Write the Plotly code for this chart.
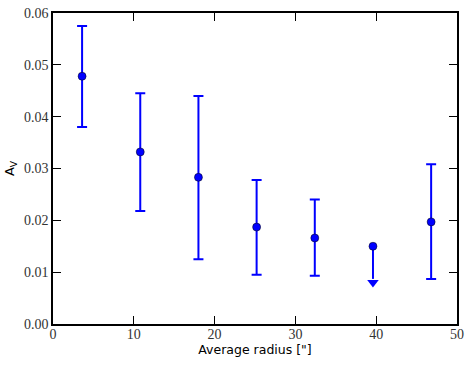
import plotly.graph_objects as go

# data
radius = [3.6, 10.8, 18.0, 25.2, 32.4, 46.8]
av = [0.0478, 0.0332, 0.0283, 0.0187, 0.0166, 0.0197]
av_hi = [0.0575, 0.0445, 0.0440, 0.0278, 0.0240, 0.0308]
av_lo = [0.0380, 0.0218, 0.0125, 0.0095, 0.0093, 0.0087]

# upper limit point
lim_radius = [39.6]
lim_av = [0.0150]
lim_tip = [0.0080]

err_plus = [h - v for h, v in zip(av_hi, av)]
err_minus = [v - l for v, l in zip(av, av_lo)]

fig = go.Figure()
fig.add_trace(go.Scatter(
    x=radius, y=av, mode="markers",
    marker=dict(color="#0000ff", size=8, line=dict(color="black", width=0.5)),
    error_y=dict(type="data", symmetric=False, array=err_plus, arrayminus=err_minus,
                 color="#0000ff", thickness=2, width=5),
    showlegend=False,
))
# upper limit: line + arrow head
fig.add_trace(go.Scatter(
    x=lim_radius, y=lim_av, mode="markers",
    marker=dict(color="#0000ff", size=8, line=dict(color="black", width=0.5)),
    error_y=dict(type="data", symmetric=False, array=[0],
                 arrayminus=[lim_av[0] - lim_tip[0] - 0.0007],
                 color="#0000ff", thickness=2, width=0),
    showlegend=False,
))
fig.add_trace(go.Scatter(
    x=lim_radius, y=lim_tip, mode="markers",
    marker=dict(symbol="triangle-down", color="#0000ff", size=10, line=dict(width=0)),
    showlegend=False,
))

axis_common = dict(
    showgrid=False, zeroline=False, showline=True, linecolor="black", linewidth=1.5,
    mirror="ticks", ticks="inside", ticklen=8, tickwidth=1.2, tickcolor="black",
    automargin=False,
    tickfont=dict(family="Liberation Serif, serif", size=14, color="#333333"),
)
fig.update_xaxes(range=[0, 50], dtick=10, ticklabelstandoff=-4,
                 title=dict(text="Average radius [\"]", standoff=0,
                            font=dict(family="DejaVu Sans", size=12.5, color="black")),
                 **axis_common)
fig.update_yaxes(range=[0, 0.06], dtick=0.01, tickformat=".2f",
                 title=dict(text="A<sub>V</sub>", standoff=6,
                            font=dict(family="DejaVu Sans", size=13, color="black")),
                 **axis_common)
fig.update_layout(
    width=469, height=366,
    margin=dict(l=53, r=12, t=13, b=42),
    paper_bgcolor="white", plot_bgcolor="white",
)
# page body has a default 8px margin; drop it so the figure sits at the corner
fig.write_html("out.html", config={"displayModeBar": False},
               post_script="document.body.style.margin='0';")
